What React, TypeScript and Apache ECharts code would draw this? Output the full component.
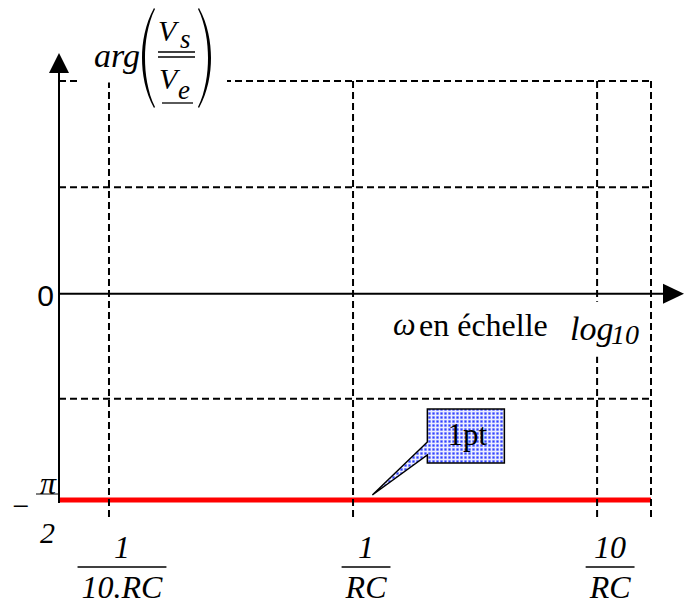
import React, { useEffect, useRef } from "react";
import * as echarts from "echarts";

// ω·RC range shown on the log axis
const xMin = 0.0624;
const xMax = 16.63;
// phase range (radians)
const yMin = -Math.PI / 2;
const yMax = 1.62;

const tickValues = [0.1, 1, 10];
const tickNumerators = ["1", "1", "10"];
const tickDenominators = ["10.RC", "RC", "RC"];
const vGridValues = [0.1, 1, 10, 16.63];
const hGridValues = [1.62, 0.81, -0.8];

const phaseX = [0.0624, 16.63];
const phaseY = [-Math.PI / 2, -Math.PI / 2];
const calloutX = 1.2;
const calloutText = "1pt";

const SERIF = "Liberation Serif";
const SANS = "Liberation Sans";

function dotPattern(): string {
  const c = document.createElement("canvas");
  c.width = 4;
  c.height = 4;
  const g = c.getContext("2d")!;
  g.fillStyle = "#eceeff";
  g.fillRect(0, 0, 4, 4);
  g.fillStyle = "#c0c6ff";
  g.fillRect(0, 0, 3, 3);
  g.fillStyle = "#3041ff";
  g.fillRect(0.5, 0.5, 2, 2);
  return c.toDataURL();
}

function measure(text: string, font: string): number {
  const c = document.createElement("canvas");
  const g = c.getContext("2d")!;
  g.font = font;
  return g.measureText(text).width;
}

function txt(
  text: string,
  x: number,
  y: number,
  size: number,
  opts: { italic?: boolean; family?: string; align?: string } = {}
) {
  return {
    type: "text",
    z: 30,
    style: {
      text,
      x,
      y,
      fontSize: size,
      fontFamily: opts.family || SERIF,
      fontStyle: opts.italic ? "italic" : "normal",
      fill: "#000000",
      align: opts.align || "left",
      verticalAlign: "middle",
    },
  };
}

export default function App() {
  const ref = useRef<HTMLDivElement>(null);
  useEffect(() => {
    if (!ref.current) return;
    const chart = echarts.init(ref.current, undefined, { renderer: "svg" });
    chart.setOption({
      animation: false,
      backgroundColor: "#ffffff",
      grid: { left: 59, right: 39, top: 81, bottom: 105 },
      xAxis: {
        type: "log",
        min: xMin,
        max: xMax,
        show: false,
        splitLine: { show: false },
      },
      yAxis: {
        type: "value",
        min: yMin,
        max: yMax,
        show: false,
        splitLine: { show: false },
      },
      series: [
        {
          type: "line",
          data: phaseX.map((x, i) => [x, phaseY[i]]),
          symbol: "none",
          lineStyle: { color: "#ff0000", width: 5 },
          z: 2,
          clip: false,
        },
      ],
    });

    const P = (x: number, y: number) =>
      chart.convertToPixel({ gridIndex: 0 }, [x, y]) as number[];
    const [x0, yTop] = P(xMin, yMax);
    const [x1, yBot] = P(xMax, yMin);
    const yZero = P(xMin, 0)[1];

    const black = "#000000";
    const dash = [7, 4];
    const els: any[] = [];

    hGridValues.forEach((v) => {
      const y = P(xMin, v)[1];
      els.push({
        type: "line",
        z: 10,
        shape: { x1: x0, y1: y, x2: x1, y2: y },
        style: { stroke: black, lineWidth: 2, lineDash: dash },
      });
    });
    vGridValues.forEach((v) => {
      const x = P(v, 0)[0];
      els.push({
        type: "line",
        z: 10,
        shape: { x1: x, y1: yTop, x2: x, y2: yBot + 19 },
        style: { stroke: black, lineWidth: 2, lineDash: dash },
      });
    });

    // white backgrounds for labels
    els.push({
      type: "rect",
      z: 20,
      shape: { x: 80, y: 0, width: 147, height: yTop + 1.5 },
      style: { fill: "#ffffff" },
    });
    els.push({
      type: "rect",
      z: 20,
      shape: { x: 388, y: yZero + 8, width: 250, height: 55 },
      style: { fill: "#ffffff" },
    });

    // axes
    els.push({
      type: "line",
      z: 30,
      shape: { x1: x0, y1: yBot + 3, x2: x0, y2: yTop - 8 },
      style: { stroke: black, lineWidth: 2 },
    });
    els.push({
      type: "polygon",
      z: 30,
      shape: { points: [[x0, yTop - 28], [x0 - 10, yTop - 8], [x0 + 10, yTop - 8]] },
      style: { fill: black },
    });
    els.push({
      type: "line",
      z: 30,
      shape: { x1: x0, y1: yZero, x2: x1 + 12, y2: yZero },
      style: { stroke: black, lineWidth: 2 },
    });
    els.push({
      type: "polygon",
      z: 30,
      shape: { points: [[x1 + 33, yZero], [x1 + 12, yZero - 10], [x1 + 12, yZero + 10]] },
      style: { fill: black },
    });

    // y labels
    els.push(txt("0", x0 - 5, yZero + 2, 30, { family: SANS, align: "right" }));
    els.push(txt("\u2212", 21, yBot + 5, 30, { align: "center" }));
    els.push(txt("\u03c0", 48, yBot - 17, 32, { italic: true, align: "center" }));
    els.push({
      type: "line",
      z: 30,
      shape: { x1: 36, y1: yBot - 6, x2: x0 - 1, y2: yBot - 6 },
      style: { stroke: black, lineWidth: 1 },
    });
    els.push(txt("2", 47.5, yBot + 32, 30, { italic: true, align: "center" }));

    // x tick fraction labels
    const fracSize = 32;
    const fracFont = `italic ${fracSize}px "${SERIF}"`;
    tickValues.forEach((v, i) => {
      const cx = P(v, 0)[0] + 13;
      const w = measure(tickDenominators[i], fracFont) + 8;
      els.push(txt(tickNumerators[i], cx, yBot + 47, fracSize, { italic: true, align: "center" }));
      els.push({
        type: "line",
        z: 30,
        shape: { x1: cx - w / 2, y1: yBot + 67, x2: cx + w / 2, y2: yBot + 67 },
        style: { stroke: black, lineWidth: 1.5 },
      });
      els.push(txt(tickDenominators[i], cx, yBot + 87, fracSize, { italic: true, align: "center" }));
    });

    // x axis title
    const ly = yZero + 31;
    els.push(txt("\u03c9", 393, ly - 1, 32, { italic: true }));
    els.push(txt("en \u00e9chelle", 419, ly, 32));
    els.push(txt("log", 570, ly + 4, 34, { italic: true }));
    els.push(txt("10", 611, ly + 10, 28, { italic: true }));

    // y axis title arg(Vs/Ve)
    els.push(txt("arg", 94, 55, 34, { italic: true }));
    els.push(txt("V", 158, 30, 30, { italic: true }));
    els.push(txt("s", 180, 39, 27, { italic: true }));
    els.push({ type: "line", z: 30, shape: { x1: 158, y1: 52, x2: 195, y2: 52 }, style: { stroke: black, lineWidth: 1.3 } });
    els.push({ type: "line", z: 30, shape: { x1: 158, y1: 57, x2: 195, y2: 57 }, style: { stroke: black, lineWidth: 1.3 } });
    els.push(txt("V", 159, 78, 30, { italic: true }));
    els.push(txt("e", 178, 90, 27, { italic: true }));
    els.push({ type: "line", z: 30, shape: { x1: 162, y1: 103, x2: 193, y2: 103 }, style: { stroke: black, lineWidth: 1.3 } });
    els.push({ type: "parenL", z: 30, x: 142, y: 8, style: { fill: black } });
    els.push({ type: "parenL", z: 30, x: 211, y: 8, scaleX: -1, style: { fill: black } });

    // callout
    const [tx, ty] = P(calloutX, yMin);
    const tipY = ty - 5;
    const bx = tx + 55;
    const by = tipY - 86;
    els.push({
      type: "polygon",
      z: 40,
      shape: {
        points: [
          [bx, by],
          [bx + 77, by],
          [bx + 77, by + 54],
          [bx, by + 54],
          [bx, by + 46],
          [tx, tipY],
          [bx, by + 33],
        ],
      },
      style: {
        fill: { image: dotPattern(), repeat: "repeat", imageWidth: 4, imageHeight: 4 },
        stroke: black,
        lineWidth: 1.5,
      },
    });
    const t = txt(calloutText, bx + 40, by + 25, 31, { align: "center" });
    t.z = 41;
    els.push(t);

    chart.setOption({ graphic: { elements: els } });
    return () => chart.dispose();
  }, []);
  return (
    <div
      ref={ref}
      style={{ position: "fixed", left: 0, top: 0, width: 690, height: 605 }}
    />
  );
}

echarts.graphic.registerShape(
  "parenL",
  echarts.graphic.extendPath(
    "M12,0 C3,16 0,35 0,50 C0,65 3,84 12,100 L13,99 C5.5,84 3,65 3,50 C3,35 5.5,16 13,1 Z",
    {}
  ) as any
);
